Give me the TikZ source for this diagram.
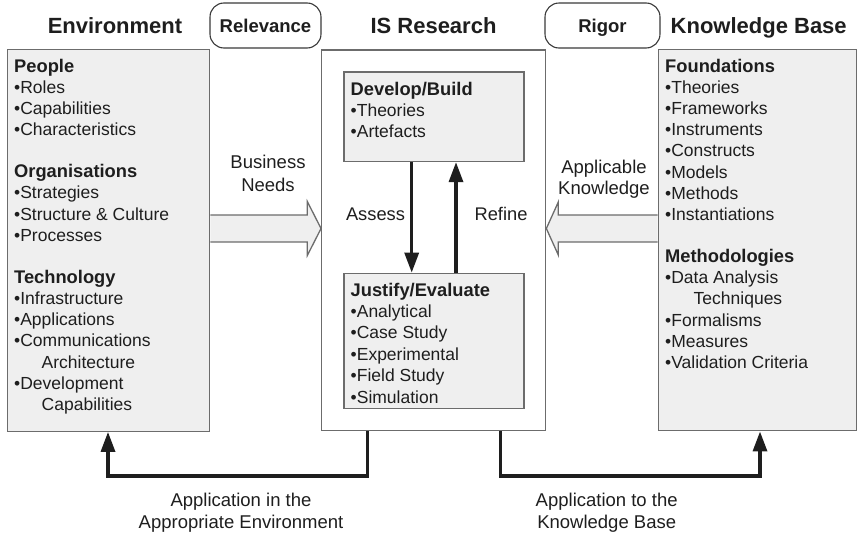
\documentclass[tikz,border=0pt]{standalone}
\usepackage{fontspec}
\setmainfont{Liberation Sans}
\usetikzlibrary{arrows.meta}

\definecolor{ink}{HTML}{1E1E1E}
\definecolor{edge}{HTML}{6C6C6C}
\definecolor{tagedge}{HTML}{3A3A3A}
\definecolor{panelfill}{HTML}{EFEFEF}

% list helpers
\newcommand\itm{\textbullet}
\newcommand\hd[1]{{\fontsize{18.3}{21.2}\selectfont\bfseries #1}}
\newcommand\cont{\hspace*{27.5pt}}
\newcommand\lines[1]{\begin{tabular}[t]{@{}l@{}}#1\end{tabular}}
\newcommand\cstack[1]{\begin{tabular}[t]{@{}c@{}}#1\end{tabular}}

\begin{document}
\begin{tikzpicture}[x=1pt,y=-1pt,
  panel/.style={rectangle, draw=edge, line width=1.3pt, fill=panelfill,
    anchor=north west, inner sep=0pt},
  plainpanel/.style={panel, fill=white},
  tag/.style={rectangle, rounded corners=14pt, draw=tagedge, line width=1.1pt,
    fill=white, minimum height=45pt, inner sep=0pt, text=ink,
    font=\fontsize{18.5}{22}\selectfont\bfseries, text height=13.3pt, text depth=0pt},
  title/.style={anchor=base, inner sep=0pt, text=ink,
    font=\fontsize{22}{26}\selectfont\bfseries},
  listtext/.style={anchor=base west, inner sep=0pt, text=ink,
    font=\fontsize{17.5}{21.15}\selectfont},
  lbl/.style={anchor=base, inner sep=0pt, text=ink},
  block/.style={draw=edge, fill=panelfill, line width=1.3pt, line join=miter},
  flow/.style={draw=ink, line width=3.3pt, line join=miter,
    -{Triangle[width=14pt,length=20pt]}}
]
\useasboundingbox (0,0) rectangle (857,536);

% headings across the top
\node[title] (envtitle) at (115,33.3) {Environment};
\node[title] (isrtitle) at (433.5,33.3) {IS Research};
\node[title] (kbtitle) at (758.7,33.3) {Knowledge Base};
\node[tag, minimum width=111pt] (relevance) at (265.5,25.5) {Relevance};
\node[tag, minimum width=115pt] (rigor) at (602.5,25.5) {Rigor};

% the three columns
\node[panel, minimum width=202.5pt, minimum height=382pt] (env) at (6.6,48.6) {};
\node[plainpanel, minimum width=224pt, minimum height=380.7pt] (isr) at (321.05,49.35) {};
\node[panel, minimum width=198pt, minimum height=381.5pt] (kb) at (657.65,48.65) {};

% research activities
\node[panel, minimum width=180pt, minimum height=89.5pt] (build) at (343.35,71.35) {};
\node[panel, minimum width=180pt, minimum height=135pt] (eval) at (343.35,272.65) {};

% column contents
\node[listtext] (envlist) at (14,72) {\lines{%
  \hd{People}\\
  \itm Roles\\
  \itm Capabilities\\
  \itm Characteristics\\[21.15pt]
  \hd{Organisations}\\
  \itm Strategies\\
  \itm Structure \& Culture\\
  \itm Processes\\[21.15pt]
  \hd{Technology}\\
  \itm Infrastructure\\
  \itm Applications\\
  \itm Communications\\
  \cont Architecture\\
  \itm Development\\
  \cont Capabilities}};

\node[listtext] (kblist) at (665,72.3) {\lines{%
  \hd{Foundations}\\
  \itm Theories\\
  \itm Frameworks\\
  \itm Instruments\\
  \itm Constructs\\
  \itm Models\\
  \itm Methods\\
  \itm Instantiations\\[21.15pt]
  \hd{Methodologies}\\
  \itm Data Analysis\\
  \hspace*{28.5pt}Techniques\\
  \itm Formalisms\\
  \itm Measures\\
  \itm Validation Criteria}};

\node[listtext] (buildlist) at (350.5,95) {\lines{%
  \hd{Develop/Build}\\
  \itm Theories\\
  \itm Artefacts}};

\node[listtext, font=\fontsize{17.5}{21.45}\selectfont] (evallist) at (350.5,296) {\lines{%
  \hd{Justify/Evaluate}\\
  \itm Analytical\\
  \itm Case Study\\
  \itm Experimental\\
  \itm Field Study\\
  \itm Simulation}};

% business needs flow in from the environment
\draw[block] (env.east |- 0,215) -- (307.3,215) -- (307.3,201.5)
  -- (isr.west |- 0,228.5) -- (307.3,255.5) -- (307.3,242) -- (env.east |- 0,242);
\node[lbl, font=\fontsize{18.5}{23.4}\selectfont] (needs) at (268,168.3)
  {\cstack{Business\\Needs}};

% applicable knowledge flows in from the knowledge base
\draw[block] (kb.west |- 0,215) -- (558.3,215) -- (558.3,202)
  -- (isr.east |- 0,228.5) -- (558.3,255) -- (558.3,242) -- (kb.west |- 0,242);
\node[lbl, font=\fontsize{18.5}{20.7}\selectfont] (applicable) at (604,173.3)
  {\cstack{Applicable\\Knowledge}};

% build / evaluate loop
\draw[flow] (build.south -| 411.7,0) -- (eval.north -| 411.7,0);
\draw[flow] (eval.north -| 456,0) -- (build.south -| 456,0);
\node[lbl, font=\fontsize{18.3}{22}\selectfont] (assess) at (375.5,220) {Assess};
\node[lbl, font=\fontsize{18.3}{22}\selectfont] (refine) at (501,220) {Refine};

% results fed back to both sides
\coordinate (outL) at (367.7,476);
\coordinate (bendL) at (108,476);
\coordinate (outR) at (500.7,476);
\coordinate (bendR) at (760,476);
\draw[flow] (outL |- isr.south) -- (outL) -- (bendL) -- (bendL |- env.south);
\draw[flow] (outR |- isr.south) -- (outR) -- (bendR) -- (bendR |- kb.south);
\node[lbl, font=\fontsize{18.5}{22}\selectfont] (appenv) at (241,506)
  {\cstack{Application in the\\Appropriate Environment}};
\node[lbl, font=\fontsize{18.5}{22}\selectfont] (appkb) at (606.7,506)
  {\cstack{Application to the\\Knowledge Base}};
\end{tikzpicture}
\end{document}
